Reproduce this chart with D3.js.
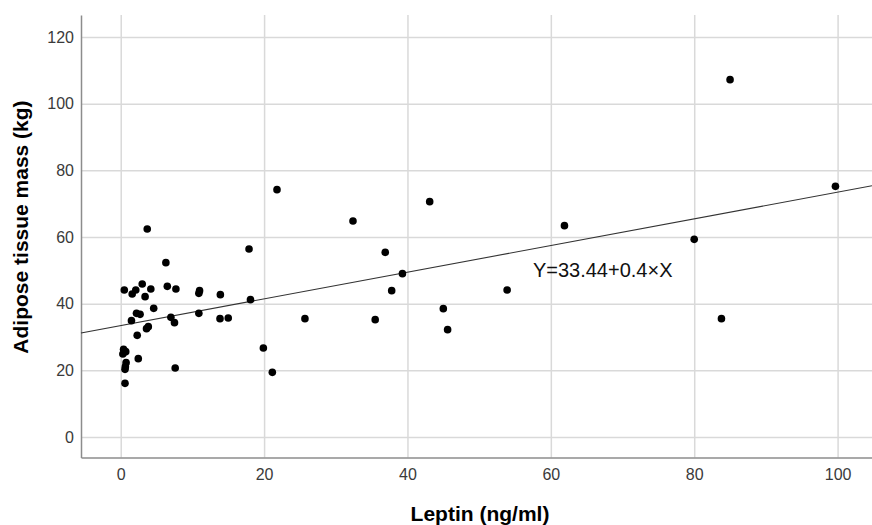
<!DOCTYPE html>
<html>
<head>
<meta charset="utf-8">
<script src="https://cdn.jsdelivr.net/npm/d3@7"></script>
<style>
  body { margin: 0; background: #fff; }
  svg { display: block; font-family: "Liberation Sans", Arial, sans-serif; }
  .tick text { fill: #3a3a3a; font-size: 16px; }
</style>
</head>
<body>
<svg id="chart"></svg>
<script>
// leptin (ng/ml), adipose tissue mass (kg)
const leptin = [0.5, 1.6, 2.1, 3.0, 3.4, 4.2, 6.5, 7.7, 4.6, 2.2, 2.7, 1.5, 7.0, 7.5, 3.85, 3.6, 2.3,
  0.4, 0.7, 0.3, 2.45, 0.75, 0.65, 0.6, 7.6, 0.6, 3.7, 6.3, 11.0, 10.9, 13.9, 17.9, 18.1, 10.9,
  13.85, 15.0, 19.9, 21.15, 21.8, 25.7, 32.4, 35.5, 36.9, 37.8, 39.3, 43.1, 45.0, 45.6, 53.9,
  61.9, 80.0, 83.8, 85.0, 99.7];
const adipose = [44.1, 42.9, 44.1, 45.9, 42.1, 44.4, 45.2, 44.4, 38.6, 37.1, 36.8, 34.9, 35.9, 34.3,
  33.1, 32.5, 30.5, 26.3, 25.6, 24.9, 23.5, 22.3, 21.1, 20.3, 20.7, 16.1, 62.4, 52.3, 43.9, 43.1,
  42.7, 56.4, 41.2, 37.1, 35.5, 35.7, 26.7, 19.4, 74.2, 35.5, 64.8, 35.2, 55.4, 43.9, 49.0, 70.6,
  38.5, 32.2, 44.1, 63.4, 59.3, 35.5, 107.2, 75.2];
const xTicks = [0, 20, 40, 60, 80, 100];
const yTicks = [0, 20, 40, 60, 80, 100, 120];
const intercept = 33.44;
const slope = 0.4;
const fitLabel = "Y=33.44+0.4×X";

const W = 872, H = 525;
const margin = {top: 15, right: 0, bottom: 67.5, left: 81};
const width = W - margin.left - margin.right;
const height = H - margin.top - margin.bottom;

const svg = d3.select('#chart').attr('width', W).attr('height', H);
const g = svg.append('g').attr('transform', `translate(${margin.left},${margin.top})`);

const x = d3.scaleLinear().domain([-5.54, 104.8]).range([0, width]);
const y = d3.scaleLinear().domain([-6.15, 126.6]).range([height, 0]);

// gridlines
g.append('g')
  .attr('transform', `translate(0,${height})`)
  .call(d3.axisBottom(x).tickValues(xTicks).tickSize(-height).tickFormat(''))
  .call(a => a.select('.domain').remove())
  .selectAll('line').attr('stroke', '#d9d9d9').attr('stroke-width', 1.5);
g.append('g')
  .call(d3.axisLeft(y).tickValues(yTicks).tickSize(-width).tickFormat(''))
  .call(a => a.select('.domain').remove())
  .selectAll('line').attr('stroke', '#d9d9d9').attr('stroke-width', 1.5);

// axes
const xAxisG = g.append('g')
  .attr('transform', `translate(0,${height})`)
  .call(d3.axisBottom(x).tickValues(xTicks).tickSize(0).tickPadding(11));
const yAxisG = g.append('g')
  .call(d3.axisLeft(y).tickValues(yTicks).tickSize(0).tickPadding(7));
[xAxisG, yAxisG].forEach(a => {
  a.select('.domain').attr('stroke', '#8c8c8c').attr('stroke-width', 1.5);
  a.selectAll('text').style('font-family', '"Liberation Sans", Arial, sans-serif').style('font-size', '16px');
});

// fit line
const x0 = x.domain()[0], x1 = x.domain()[1];
g.append('line')
  .attr('x1', x(x0)).attr('y1', y(intercept + slope * x0))
  .attr('x2', x(x1)).attr('y2', y(intercept + slope * x1))
  .attr('stroke', '#333').attr('stroke-width', 1.1);

// points
g.append('g').selectAll('circle')
  .data(leptin.map((v, i) => [v, adipose[i]]))
  .join('circle')
  .attr('cx', d => x(d[0]))
  .attr('cy', d => y(d[1]))
  .attr('r', 3.8)
  .attr('fill', '#000');

// fit label
g.append('text')
  .attr('x', x(57.5)).attr('y', y(48))
  .style('font-size', '20px').attr('fill', '#111')
  .text(fitLabel);

// axis titles
svg.append('text')
  .attr('x', 480).attr('y', 521)
  .attr('text-anchor', 'middle')
  .style('font-size', '21px').style('font-weight', 'bold')
  .text('Leptin (ng/ml)');
svg.append('text')
  .attr('transform', 'translate(28,227) rotate(-90)')
  .attr('text-anchor', 'middle')
  .style('font-size', '21px').style('font-weight', 'bold')
  .text('Adipose tissue mass (kg)');
</script>
</body>
</html>
